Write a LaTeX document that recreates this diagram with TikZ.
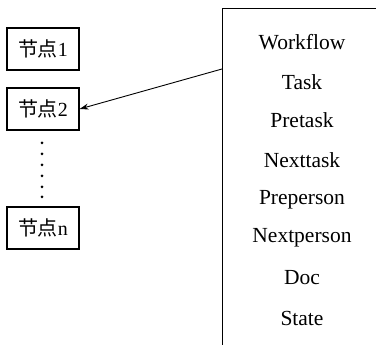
\documentclass[tikz,border=0pt]{standalone}
\usepackage{fontspec}
\setmainfont{Liberation Serif}
\newfontfamily\cjk{Noto Sans CJK SC}
\usetikzlibrary{arrows.meta,calc}
\begin{document}
\begin{tikzpicture}[x=1pt,y=1pt,
  nodebox/.style={draw,line width=1.2pt,minimum width=72pt,minimum height=42pt,inner sep=0pt,font=\fontsize{20}{22}\selectfont},
  field/.style={font=\fontsize{21.5}{23}\selectfont,inner sep=0pt},
  link/.style={-{Stealth[length=9pt,width=6pt]},line width=0.9pt}]
\clip (0,0) rectangle (376,345);
\fill[white] (0,0) rectangle (376,345);
\node[nodebox] (n1) at (43,296) {{\cjk 节点}1};
\node[nodebox] (n2) at (43,236) {{\cjk 节点}2};
\node[nodebox] (nn) at (43,117) {{\cjk 节点}n};
\foreach \y in {202,191,180,169,158,148} \fill (42,\y) circle (1.5pt);
\node[draw,line width=1.3pt,anchor=north west,minimum width=200pt,minimum height=400pt,inner sep=0pt] (rb) at (222,337) {};
\node[field] (f1) at (302,303) {Workflow};
\node[field] (f2) at (302,263) {Task};
\node[field] (f3) at (302,225) {Pretask};
\node[field] (f4) at (302,185) {Nexttask};
\node[field] (f5) at (302,145) {Preperson};
\node[field] (f6) at (302,107) {Nextperson};
\node[field] (f7) at (302,67) {Doc};
\node[field] (f8) at (302,27) {State};
\coordinate (src) at ($(rb.north west)+(0,-61)$);
\draw[link] (src) -- (n2.east);
\end{tikzpicture}
\end{document}
